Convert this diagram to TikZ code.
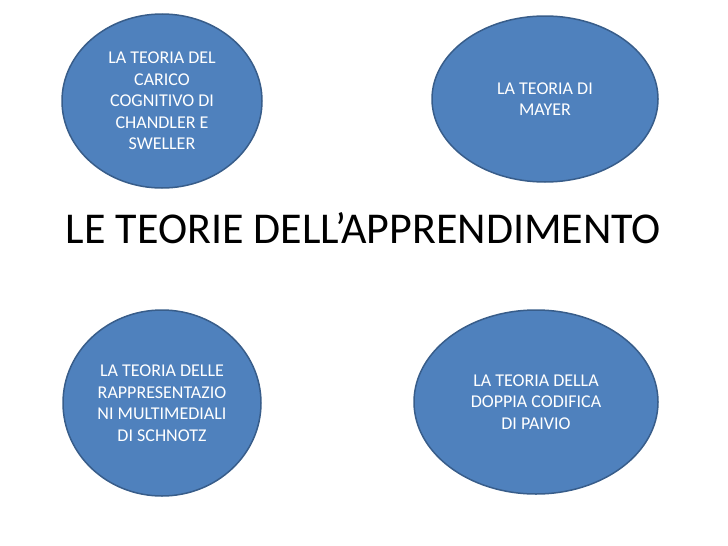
\documentclass[tikz,border=0pt]{standalone}
\usepackage{fontspec}
\setmainfont{Carlito}
\usetikzlibrary{shapes.geometric}
\definecolor{bluefill}{HTML}{4F81BD}
\definecolor{blueline}{HTML}{385D8A}
\begin{document}
\begin{tikzpicture}[x=1pt,y=-1pt,
    teoria/.style={ellipse, draw=blueline, line width=1.5pt, fill=bluefill,
      text=white, align=center, inner sep=0pt,
      font=\fontsize{18}{21.5}\selectfont}]
        \useasboundingbox (0,0) rectangle (728,546);
        % le quattro teorie
        \node[teoria, minimum width=200pt, minimum height=174pt] (chandler) at (162,101)
            {LA TEORIA DEL\\CARICO\\COGNITIVO DI\\CHANDLER E\\SWELLER};
        \node[teoria, minimum width=226pt, minimum height=166pt] (mayer) at (545,99)
            {LA TEORIA DI\\MAYER};
        \node[teoria, minimum width=198pt, minimum height=186pt] (schnotz) at (162,403)
            {LA TEORIA DELLE\\RAPPRESENTAZIO\\NI MULTIMEDIALI\\DI SCHNOTZ};
        \node[teoria, minimum width=244pt, minimum height=184pt] (paivio) at (536,402)
            {LA TEORIA DELLA\\DOPPIA CODIFICA\\DI PAIVIO};

        % titolo
        \node[font=\fontsize{44}{52}\selectfont] (titolo) at (363.5,228.5)
            {LE TEORIE DELL’APPRENDIMENTO};
\end{tikzpicture}
\end{document}
